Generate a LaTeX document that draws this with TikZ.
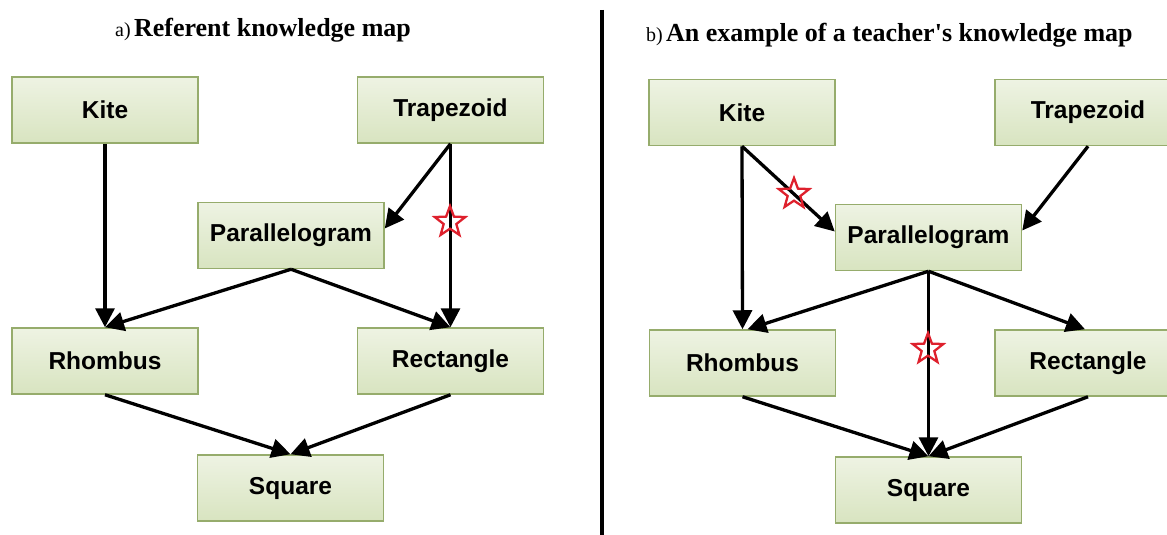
\documentclass[tikz,border=0pt]{standalone}
\usepackage{fontspec}
\setmainfont{Liberation Serif}
\newfontfamily\titlefont{Liberation Serif}
\newfontfamily\boxfont{Liberation Sans}
\usetikzlibrary{arrows.meta,shapes.geometric}
\definecolor{boxtop}{RGB}{238,243,227}
\definecolor{boxbot}{RGB}{216,228,192}
\definecolor{boxline}{RGB}{150,172,108}
\definecolor{starred}{RGB}{222,32,44}
\begin{document}
\begin{tikzpicture}[x=1pt,y=-1pt,
  concept/.style={draw=boxline, line width=1.5pt, top color=boxtop, bottom color=boxbot,
    minimum width=186pt, minimum height=66pt, inner sep=0pt,
    font=\boxfont\bfseries\fontsize{24.5}{28}\selectfont},
  link/.style={line width=3.3pt, -{Triangle[length=19pt,width=19pt]}},
  starmark/.style={star, star points=5, star point ratio=2.4, draw=starred,
    line width=2.3pt, minimum size=32pt, inner sep=0pt},
  title/.style={anchor=base west, inner sep=0pt, font=\titlefont},
  divider/.style={line width=4pt}
]
\useasboundingbox (0,0) rectangle (1167,535);
\clip (0,0) rectangle (1167,535);

% titles
\node[title] (ta) at (115,37) {\fontsize{20}{22}\selectfont a)\,{\bfseries\fontsize{26}{30}\selectfont Referent knowledge map}};
\node[title] (tb) at (646,42) {\fontsize{20}{22}\selectfont b)\,{\bfseries\fontsize{26}{30}\selectfont An example of a teacher's knowledge map}};

% divider
\draw[divider] (602,10) -- (602,535);

% left panel
\node[concept] (kiteA) at (105,110) {Kite};
\node[concept] (trapA) at (450.5,110) {Trapezoid};
\node[concept] (parA) at (291,235.5) {Parallelogram};
\node[concept] (rhomA) at (105,361) {Rhombus};
\node[concept] (rectA) at (450.5,361) {Rectangle};
\node[concept] (sqA) at (290.5,488) {Square};

\draw[link] (kiteA.south) -- (rhomA.north);
\draw[link] (trapA.south) -- ([yshift=7pt]parA.east);
\draw[link] (trapA.south) -- (rectA.north);
\draw[link] (parA.south) -- (rhomA.north);
\draw[link] (parA.south) -- (rectA.north);
\draw[link] (rhomA.south) -- (sqA.north);
\draw[link] (rectA.south) -- (sqA.north);

\node[starmark] (starA) at (450,222) {};

% right panel
\node[concept] (kiteB) at (742,112.5) {Kite};
\node[concept] (trapB) at (1088,112.5) {Trapezoid};
\node[concept] (parB) at (928.5,237.5) {Parallelogram};
\node[concept] (rhomB) at (742.5,363) {Rhombus};
\node[concept] (rectB) at (1088,363) {Rectangle};
\node[concept] (sqB) at (928.5,490) {Square};

\draw[link] (kiteB.south) -- (rhomB.north);
\draw[link] (kiteB.south) -- ([yshift=6pt]parB.west);
\draw[link] (trapB.south) -- ([yshift=7pt]parB.east);
\draw[link] (parB.south) -- ([xshift=5pt]rhomB.north);
\draw[link] (parB.south) -- (sqB.north);
\draw[link] (parB.south) -- ([xshift=-3pt]rectB.north);
\draw[link] (rhomB.south) -- (sqB.north);
\draw[link] (rectB.south) -- (sqB.north);

\node[starmark] (starB1) at (794,194) {};
\node[starmark] (starB2) at (928,349) {};
\end{tikzpicture}
\end{document}
